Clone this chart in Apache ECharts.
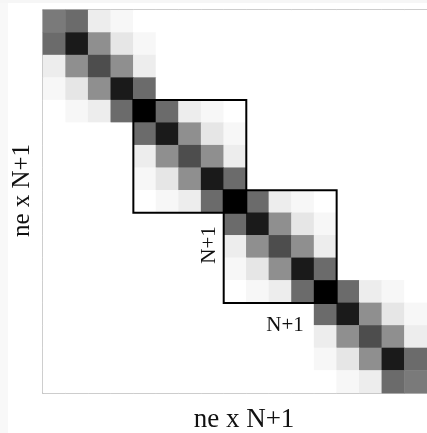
<!DOCTYPE html>
<html>
<head>
<meta charset="utf-8">
<style>
  html, body { margin: 0; padding: 0; background: #ffffff; }
  #chart { width: 427px; height: 433px; }
</style>
<script src="https://cdn.jsdelivr.net/npm/echarts@6/dist/echarts.min.js"></script>
</head>
<body>
<div id="chart"></div>
<script>
// Matrix node indices (ne x N+1 nodes, shared element boundaries)
var nodes = ['0','1','2','3','4','5','6','7','8','9','10','11','12','13','14','15','16'];

// Matrix magnitudes (0 = white, 1 = black), row by row
var matrixRows = [
  [0.52,0.58,0.07,0.03,0,   0,   0,   0,   0,   0,   0,   0,   0,   0,   0,   0,   0   ],
  [0.58,0.90,0.44,0.10,0.03,0,   0,   0,   0,   0,   0,   0,   0,   0,   0,   0,   0   ],
  [0.07,0.44,0.70,0.44,0.07,0,   0,   0,   0,   0,   0,   0,   0,   0,   0,   0,   0   ],
  [0.03,0.10,0.44,0.90,0.58,0,   0,   0,   0,   0,   0,   0,   0,   0,   0,   0,   0   ],
  [0,   0.03,0.07,0.58,1.00,0.58,0.07,0.03,0,   0,   0,   0,   0,   0,   0,   0,   0   ],
  [0,   0,   0,   0,   0.58,0.90,0.44,0.10,0.03,0,   0,   0,   0,   0,   0,   0,   0   ],
  [0,   0,   0,   0,   0.07,0.44,0.70,0.44,0.07,0,   0,   0,   0,   0,   0,   0,   0   ],
  [0,   0,   0,   0,   0.03,0.10,0.44,0.90,0.58,0,   0,   0,   0,   0,   0,   0,   0   ],
  [0,   0,   0,   0,   0,   0.03,0.07,0.58,1.00,0.58,0.07,0.03,0,   0,   0,   0,   0   ],
  [0,   0,   0,   0,   0,   0,   0,   0,   0.58,0.90,0.44,0.10,0.03,0,   0,   0,   0   ],
  [0,   0,   0,   0,   0,   0,   0,   0,   0.07,0.44,0.70,0.44,0.07,0,   0,   0,   0   ],
  [0,   0,   0,   0,   0,   0,   0,   0,   0.03,0.10,0.44,0.90,0.58,0,   0,   0,   0   ],
  [0,   0,   0,   0,   0,   0,   0,   0,   0,   0.03,0.07,0.58,1.00,0.58,0.07,0.03,0   ],
  [0,   0,   0,   0,   0,   0,   0,   0,   0,   0,   0,   0,   0.58,0.90,0.44,0.10,0.03],
  [0,   0,   0,   0,   0,   0,   0,   0,   0,   0,   0,   0,   0.07,0.44,0.70,0.44,0.07],
  [0,   0,   0,   0,   0,   0,   0,   0,   0,   0,   0,   0,   0.03,0.10,0.44,0.90,0.58],
  [0,   0,   0,   0,   0,   0,   0,   0,   0,   0,   0,   0,   0,   0.03,0.07,0.58,0.52]
];

// Highlighted element blocks: [first node, last node]
var elementBoxes = [[4, 8], [8, 12]];

// Text
var axisTitle = 'ne x N+1';
var blockLabel = 'N+1';

var cells = [];
for (var r = 0; r < matrixRows.length; r++) {
  for (var c = 0; c < matrixRows[r].length; c++) {
    cells.push([c, r, matrixRows[r][c]]);
  }
}

var chart = echarts.init(document.getElementById('chart'), null, { renderer: 'canvas' });
var serif = '"Liberation Serif", "DejaVu Serif", serif';

chart.setOption({
  animation: false,
  backgroundColor: '#ffffff',
  grid: { left: 43, top: 10, width: 384, height: 383, show: false, containLabel: false, outerBoundsMode: 'none' },
  xAxis: [{
    type: 'category', data: nodes, position: 'bottom',
    axisLine: { show: true, lineStyle: { color: '#a8a8a8', width: 1.5 } },
    axisTick: { show: false }, axisLabel: { show: false }, splitLine: { show: false },
    name: axisTitle, nameLocation: 'middle', nameGap: 13,
    nameTextStyle: { fontFamily: serif, fontSize: 27, color: '#111111', padding: [0, 0, 0, 18] }
  }, {
    type: 'category', data: nodes, position: 'top',
    axisLine: { show: true, lineStyle: { color: '#a8a8a8', width: 1.5 } },
    axisTick: { show: false }, axisLabel: { show: false }, splitLine: { show: false }
  }],
  yAxis: [{
    type: 'category', data: nodes, inverse: true, position: 'left',
    axisLine: { show: true, lineStyle: { color: '#a8a8a8', width: 1.5 } },
    axisTick: { show: false }, axisLabel: { show: false }, splitLine: { show: false },
    name: axisTitle, nameLocation: 'middle', nameGap: 8, nameRotate: 90,
    nameTextStyle: { fontFamily: serif, fontSize: 25, color: '#111111', padding: [0, 0, 0, 22] }
  }],
  visualMap: {
    show: false, min: 0, max: 1, dimension: 2, seriesIndex: 0,
    inRange: { color: ['#ffffff', '#000000'] }
  },
  series: [{
    type: 'heatmap',
    xAxisIndex: 0, yAxisIndex: 0,
    data: cells,
    itemStyle: { borderWidth: 0 },
    emphasis: { disabled: true }
  }, {
    type: 'custom',
    xAxisIndex: 0, yAxisIndex: 0,
    z: 5,
    data: elementBoxes,
    encode: { x: 0, y: 1 },
    renderItem: function (params, api) {
      var a = api.value(0), b = api.value(1);
      var p0 = api.coord([a, a]);
      var p1 = api.coord([b, b]);
      var s = api.size([1, 1]);
      var x0 = p0[0] - s[0] / 2, y0 = p0[1] - s[1] / 2;
      var x1 = p1[0] + s[0] / 2, y1 = p1[1] + s[1] / 2;
      return {
        type: 'rect',
        shape: { x: x0, y: y0, width: x1 - x0, height: y1 - y0 },
        style: { fill: null, stroke: '#000000', lineWidth: 2 }
      };
    }
  }],
  graphic: [
    { type: 'rect', left: 0, top: 0, z: -1, shape: { width: 8, height: 433 }, style: { fill: '#f8f8f8' } },
    { type: 'rect', left: 0, top: 0, z: -1, shape: { width: 427, height: 3 }, style: { fill: '#f6f6f6' } },
    { type: 'text', x: 209, y: 245, rotation: Math.PI / 2, z: 100,
      style: { text: blockLabel, font: '21px ' + serif, fill: '#111111', align: 'center', verticalAlign: 'middle' } },
    { type: 'text', x: 285, y: 325, z: 100,
      style: { text: blockLabel, font: '21px ' + serif, fill: '#111111', align: 'center', verticalAlign: 'middle' } }
  ]
});
</script>
</body>
</html>
